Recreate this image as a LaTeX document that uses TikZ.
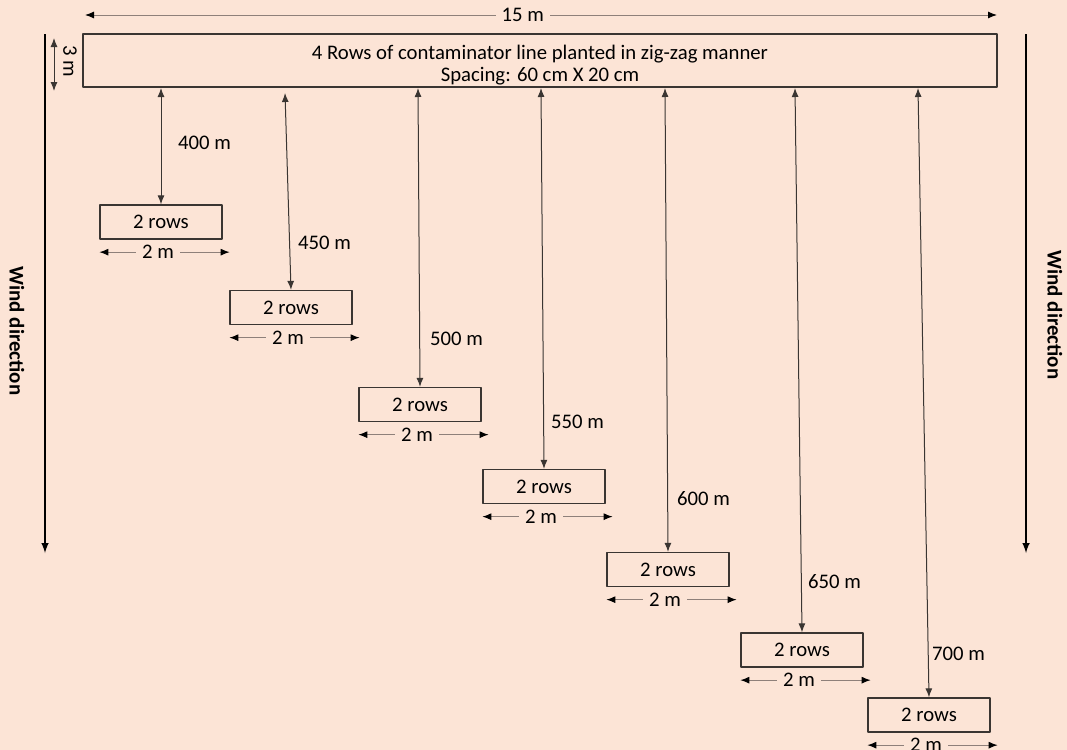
\documentclass[tikz,border=0pt]{standalone}
\usepackage{fontspec}
\setmainfont{Carlito}
\usetikzlibrary{positioning,arrows.meta}
\definecolor{bgpeach}{HTML}{FCE4D6}
\definecolor{dimgray}{HTML}{8E807A}
\definecolor{boxline}{HTML}{3A3532}

\tikzset{
  rowbox/.style={draw=boxline,line width=1.3bp,minimum width=122bp,minimum height=34bp,inner sep=0pt},
  dist/.style={inner sep=1bp,anchor=west},
  gap/.style={fill=bgpeach,inner xsep=6bp,inner ysep=0bp},
  windlbl/.style={rotate=-90,font=\fontsize{21}{25}\selectfont\bfseries},
  gaparrow/.style={boxline,<->,line width=1bp,>={Latex[length=9bp,width=7bp]}}
}

\begin{document}
\begin{tikzpicture}[>=latex,line join=bevel,font=\fontsize{20.8}{25}\selectfont]
\useasboundingbox[fill=bgpeach] (0bp,0bp) rectangle (1067bp,-750bp);
%%
\node (field) at (540bp,-60.5bp) [draw=boxline,line width=1.6bp,minimum width=914bp,minimum height=53bp,align=center,inner sep=0pt] {\rule{0pt}{24bp}4 Rows of contaminator line planted in zig-zag manner\\[-3bp]Spacing: 60 cm X 20 cm};
  \node (row_1) at (161bp,-222bp) [rowbox] {2 rows};
  \node (row_2) at (291bp,-307.5bp) [rowbox] {2 rows};
  \node (row_3) at (420bp,-404.5bp) [rowbox] {2 rows};
  \node (row_4) at (544bp,-486.5bp) [rowbox] {2 rows};
  \node (row_5) at (668bp,-569.5bp) [rowbox] {2 rows};
  \node (row_6) at (802bp,-650bp) [rowbox] {2 rows};
  \node (row_7) at (929bp,-715bp) [rowbox] {2 rows};
  \node (lbl_1) at (177bp,-143bp) [dist] {400 m};
  \node (lbl_2) at (297bp,-243bp) [dist] {450 m};
  \node (lbl_3) at (429bp,-339bp) [dist] {500 m};
  \node (lbl_4) at (550bp,-422bp) [dist] {550 m};
  \node (lbl_5) at (676bp,-499bp) [dist] {600 m};
  \node (lbl_6) at (807bp,-582bp) [dist] {650 m};
  \node (lbl_7) at (931bp,-654bp) [dist] {700 m};
  \node (wind_l) at (17bp,-331bp) [windlbl] {Wind direction};
  \node (wind_r) at (1055bp,-315bp) [windlbl] {Wind direction};
  \node (h_lbl) at (70bp,-61bp) [rotate=-90,inner sep=0pt] {3 m};
%
  \coordinate (top_1) at (161bp,-88bp);
  \coordinate (top_2) at (285bp,-93bp);
  \coordinate (top_3) at (418bp,-88bp);
  \coordinate (top_4) at (541bp,-88bp);
  \coordinate (top_5) at (665bp,-88bp);
  \coordinate (top_6) at (795bp,-88bp);
  \coordinate (top_7) at (918bp,-88bp);
  \coordinate (len_w) at (85bp,-15bp);
  \coordinate (len_e) at (997bp,-15bp);
  \coordinate (hgt_n) at (54bp,-38bp);
  \coordinate (hgt_s) at (54bp,-91bp);
  \coordinate (wl_n) at (45bp,-34bp);
  \coordinate (wl_s) at (45bp,-553bp);
  \coordinate (wr_n) at (1026bp,-34bp);
  \coordinate (wr_s) at (1026bp,-553bp);
%
  \draw [gaparrow] (top_1) -- (row_1.north);
  \draw [gaparrow] (top_2) -- (row_2.north);
  \draw [gaparrow] (top_3) -- (row_3.north);
  \draw [gaparrow] (top_4) -- (row_4.north);
  \draw [gaparrow] (top_5) -- (row_5.north);
  \draw [gaparrow] (top_6) -- (row_6.north);
  \draw [gaparrow] (top_7) -- (row_7.north);
  \draw [dimgray,<->,line width=1bp,>={Latex[length=9bp,width=7bp,black]}] (len_w) -- node[gap,pos=0.48,text=black] {15 m} (len_e);
  \draw [gaparrow] (hgt_n) -- (hgt_s);
  \draw [black,->,line width=2.4bp] (wl_n) -- (wl_s);
  \draw [black,->,line width=2.4bp] (wr_n) -- (wr_s);
%
  \foreach \i in {1,...,7} {
    \coordinate (wid_w\i) at ([yshift=-12.5bp]row_\i.south west);
    \coordinate (wid_e\i) at ([xshift=7bp,yshift=-12.5bp]row_\i.south east);
    \draw [dimgray,<->,line width=1bp,>={Latex[length=9bp,width=7bp,black]}] (wid_w\i) -- node[gap,pos=0.45,text=black] {2 m} (wid_e\i);
  }
%
\end{tikzpicture}
\end{document}
